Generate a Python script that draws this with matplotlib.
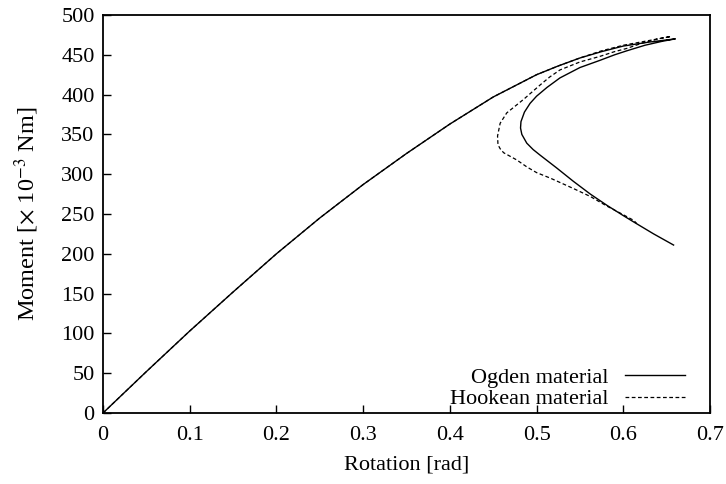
import matplotlib
matplotlib.use("Agg")
import matplotlib.pyplot as plt

plt.rcParams["font.family"] = ["Liberation Serif", "DejaVu Serif"]
plt.rcParams["mathtext.fontset"] = "stix"

# Moment-rotation response (rotation in rad, moment in 1e-3 Nm)
ogden_rot = [0.0, 0.05, 0.1, 0.15, 0.2, 0.25, 0.3, 0.35, 0.4, 0.45, 0.5, 0.525, 0.55, 0.575,
             0.6, 0.63, 0.66,
             0.645, 0.625, 0.604, 0.59, 0.573, 0.55, 0.527, 0.512, 0.5, 0.4925, 0.486, 0.482,
             0.4815, 0.483, 0.4887, 0.496, 0.504, 0.523, 0.5425, 0.562, 0.581, 0.6, 0.612,
             0.635, 0.658]
ogden_mom = [0, 52, 103, 152, 200, 245, 287, 326, 363, 397, 425, 436, 446, 454,
             461, 466, 470,
             467, 462, 455, 450, 443, 434, 421, 409, 398, 389, 378, 366,
             358, 350, 339, 331, 324, 308, 291, 275, 261, 248, 240,
             225, 211]

hooke_rot = [0.0, 0.05, 0.1, 0.15, 0.2, 0.25, 0.3, 0.35, 0.4, 0.45, 0.5, 0.525, 0.55, 0.575,
             0.6, 0.63, 0.655,
             0.64, 0.62, 0.604, 0.59, 0.573, 0.55, 0.527, 0.515, 0.504, 0.485, 0.4656, 0.458,
             0.455, 0.4555, 0.458, 0.462, 0.477, 0.489, 0.5, 0.516, 0.5425, 0.562, 0.581,
             0.595, 0.612, 0.6155]
hooke_mom = [0, 52, 103, 152, 200, 245, 287, 326, 363, 397, 425, 436, 446, 455,
             462, 468, 473,
             470, 464, 458, 454, 448, 441, 431, 422, 412, 394, 377, 364,
             348, 337, 332, 327, 318, 309, 302, 295, 282, 272, 260,
             252, 242, 238]

x_ticks = [0, 0.1, 0.2, 0.3, 0.4, 0.5, 0.6, 0.7]
x_tick_labels = ["0", "0.1", "0.2", "0.3", "0.4", "0.5", "0.6", "0.7"]
y_ticks = list(range(0, 501, 50))

FS = 16

fig = plt.figure(figsize=(7.26, 4.84), dpi=100)
ax = fig.add_axes([103 / 726, 1 - 413 / 484, (710 - 103) / 726, (413 - 15) / 484])

ax.plot(ogden_rot, ogden_mom, color="black", lw=1.0, label="Ogden material")
ax.plot(hooke_rot, hooke_mom, color="black", lw=0.9, linestyle=(0, (3, 2)),
        label="Hookean material")

ax.set_xlim(0, 0.7)
ax.set_ylim(0, 500)
ax.set_xticks(x_ticks)
ax.set_xticklabels(x_tick_labels)
ax.set_yticks(y_ticks)
ax.tick_params(direction="in", length=6, width=1.0, labelsize=FS, pad=9,
               top=False, right=False)
ax.tick_params(axis="y", pad=6)
for s in ax.spines.values():
    s.set_linewidth(1.3)

ax.set_xlabel("Rotation [rad]", fontsize=FS, labelpad=8)
ax.set_ylabel(r"Moment [$\times$ 10$^{-3}$ Nm]", fontsize=17.5)
ax.yaxis.set_label_coords(-62 / 607, 0.5)

ax.legend(loc="lower right", frameon=False, markerfirst=False, fontsize=FS,
          handlelength=2.7, handletextpad=0.75, labelspacing=0.05,
          borderaxespad=0.0, bbox_to_anchor=(0.974, -0.013))

fig.savefig("out.png", dpi=100)
